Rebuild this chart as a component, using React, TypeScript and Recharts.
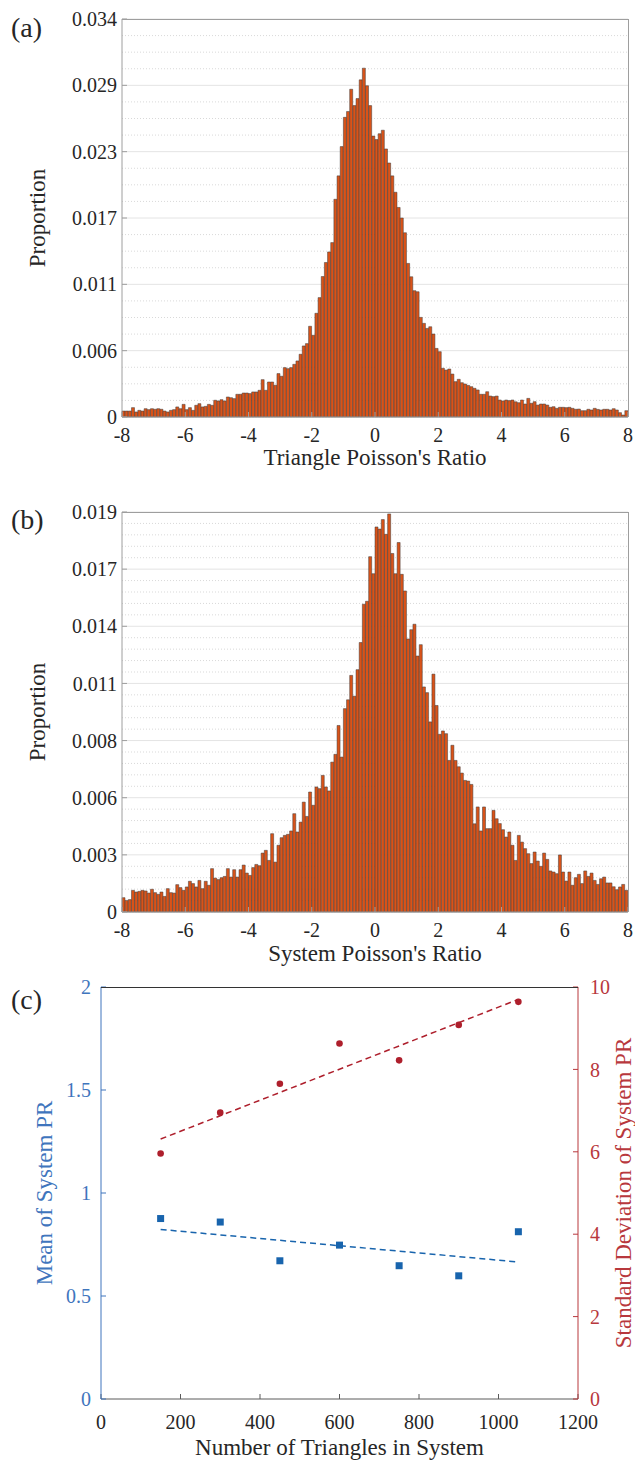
import React from 'react';
import { XAxis, YAxis, CartesianGrid, ComposedChart, Bar, Scatter, Line, Label } from 'recharts';

const FONT = "'Liberation Serif', 'DejaVu Serif', serif";
const TEXT = '#262626';

// histogram bins: 160 bins of width 0.1 from -8 to 8
const BIN_START = -8;
const BIN_WIDTH = 0.1;
const HIST_MIN = -8;
const HIST_MAX = 8;
const histXTicks = [-8, -6, -4, -2, 0, 2, 4, 6, 8];

// (a) triangle Poisson's ratio, proportion per bin
const triangleProportion = [
  0.00051, 0.00051, 0.00051, 0.0008, 0.00043, 0.00057, 0.00051, 0.00071, 0.00063, 0.00071,
  0.00066, 0.00071, 0.00066, 0.00051, 0.00043, 0.00057, 0.00063, 0.00086, 0.00071, 0.00108,
  0.00063, 0.0008, 0.00057, 0.001, 0.00114, 0.00086, 0.00091, 0.00108, 0.001, 0.00143,
  0.00137, 0.00148, 0.00137, 0.00171, 0.00165, 0.00157, 0.00194, 0.00194, 0.00205, 0.00205,
  0.002, 0.00214, 0.00214, 0.00228, 0.00319, 0.00228, 0.00299, 0.00299, 0.00271, 0.00371,
  0.00348, 0.00422, 0.00413, 0.00422, 0.0045, 0.00479, 0.00536, 0.00607, 0.00627, 0.00775,
  0.00698, 0.00886, 0.0102, 0.012, 0.0132, 0.0141, 0.0149, 0.0186, 0.0206, 0.0231,
  0.0256, 0.0261, 0.028, 0.0266, 0.0272, 0.0288, 0.0298, 0.0283, 0.0266, 0.024,
  0.0237, 0.0242, 0.0245, 0.0229, 0.0217, 0.0206, 0.0192, 0.0179, 0.017, 0.01574,
  0.01312, 0.01198, 0.01079, 0.0107, 0.00851, 0.008, 0.00757, 0.00771, 0.00709, 0.00586,
  0.00558, 0.00416, 0.00401, 0.0041, 0.00367, 0.00302, 0.00322, 0.00293, 0.00282, 0.0027,
  0.00259, 0.00245, 0.00231, 0.00194, 0.00194, 0.00216, 0.00179, 0.00174, 0.00179, 0.00145,
  0.00137, 0.00145, 0.0014, 0.00145, 0.0013, 0.00122, 0.00145, 0.00111, 0.00159, 0.00117,
  0.00131, 0.00102, 0.00111, 0.00111, 0.00102, 0.00083, 0.00088, 0.00074, 0.00083, 0.00083,
  0.0008, 0.00083, 0.00074, 0.00066, 0.00068, 0.00054, 0.00054, 0.00066, 0.0006, 0.00074,
  0.00065, 0.0006, 0.00066, 0.00066, 0.0006, 0.00071, 0.0006, 0.00037, 0.00017, 0.00054,
];
const triangleYMax = 0.034;
const triangleYLabels = ['0', '0.006', '0.011', '0.017', '0.023', '0.029', '0.034'];

// (b) system Poisson's ratio, proportion per bin
const systemProportion = [
  0.00068, 0.00055, 0.00059, 0.00103, 0.00095, 0.00098, 0.00103, 0.001, 0.0009, 0.00108,
  0.00092, 0.00084, 0.00095, 0.00074, 0.00111, 0.00092, 0.0009, 0.0013, 0.00116, 0.00103,
  0.00119, 0.00146, 0.00135, 0.00119, 0.0015, 0.00111, 0.00146, 0.00127, 0.00206, 0.00161,
  0.00154, 0.00163, 0.00169, 0.00206, 0.00166, 0.00201, 0.00166, 0.00201, 0.00223, 0.00185,
  0.00174, 0.00211, 0.00226, 0.0022, 0.0028, 0.00293, 0.00245, 0.00372, 0.00237, 0.00317,
  0.00353, 0.00364, 0.00369, 0.00385, 0.00467, 0.0038, 0.00427, 0.00522, 0.00454, 0.0057,
  0.00507, 0.00594, 0.00586, 0.00649, 0.00594, 0.00575, 0.00712, 0.00749, 0.00886, 0.00736,
  0.00966, 0.01008, 0.01124, 0.01025, 0.01151, 0.0128, 0.01462, 0.01476, 0.01688, 0.01607,
  0.01829, 0.01819, 0.01864, 0.01794, 0.01891, 0.01703, 0.01607, 0.01755, 0.01604, 0.01525,
  0.01297, 0.01341, 0.01367, 0.01216, 0.0127, 0.01069, 0.01042, 0.00903, 0.0113, 0.00981,
  0.00844, 0.0086, 0.00847, 0.0072, 0.00792, 0.0072, 0.0069, 0.0066, 0.00625, 0.00622,
  0.00606, 0.00419, 0.00499, 0.00385, 0.00499, 0.00396, 0.00396, 0.00483, 0.00443, 0.0042,
  0.00391, 0.00356, 0.0038, 0.00317, 0.00245, 0.00364, 0.00332, 0.00301, 0.00277, 0.0023,
  0.00285, 0.00242, 0.00217, 0.0028, 0.0025, 0.00195, 0.0019, 0.00182, 0.00271, 0.0019,
  0.00147, 0.0019, 0.00127, 0.00163, 0.00179, 0.00135, 0.00195, 0.00169, 0.00185, 0.0015,
  0.00131, 0.00158, 0.00166, 0.00138, 0.00138, 0.0012, 0.00106, 0.00119, 0.00131, 0.00103,
];
const systemYMax = 0.019;
const systemYLabels = ['0', '0.003', '0.006', '0.008', '0.011', '0.014', '0.017', '0.019'];

// (c) statistics against system size
const triangleCounts = [150, 300, 450, 600, 750, 900, 1050];
const meanPR = [0.876, 0.859, 0.671, 0.747, 0.647, 0.598, 0.812];
const stdPR = [5.96, 6.95, 7.65, 8.63, 8.22, 9.08, 9.64];
const fitCounts = [150, 1050];
const meanFit = [0.823, 0.665];
const stdFit = [6.31, 9.7];
const countTicks = [0, 200, 400, 600, 800, 1000, 1200];
const meanTicks = [0, 0.5, 1, 1.5, 2];
const stdTicks = [0, 2, 4, 6, 8, 10];

const BLUE_AXIS = '#3f75bd';
const BLUE = '#1864ad';
const RED_AXIS = '#b8383d';
const RED = '#ae1f2c';
const FRAME = '#9e9e9e';
const TICK_FS = 20;
const TITLE_FS = 23;

function Histogram({ values, yMax, yLabels, minorSteps, xLabel, height, top, axisHeight, labelOffset }: any) {
  const data = values.map((v: number, i: number) => ({ x: +(BIN_START + BIN_WIDTH * (i + 0.5)).toFixed(2), v }));
  const step = yMax / (yLabels.length - 1);
  const majors = yLabels.map((_: string, k: number) => k * step);
  const minors: number[] = [];
  for (let k = 0; k < yLabels.length - 1; k++) {
    for (let j = 1; j < minorSteps; j++) minors.push((k + j / minorSteps) * step);
  }
  const fmt = (v: number) => yLabels[Math.round(v / step)];
  const tickStyle = { fill: TEXT, fontSize: TICK_FS, fontFamily: FONT };
  return (
    <ComposedChart width={635} height={height} data={data} margin={{ top, right: 7, bottom: 0, left: 0 }} barCategoryGap={0} barGap={0}>
      <CartesianGrid xAxisId="num" yAxisId="l" vertical={false} horizontalValues={minors} stroke="#d9d9d9" strokeDasharray="1 2" />
      <CartesianGrid xAxisId="num" yAxisId="l" vertical={false} horizontalValues={majors} stroke="#e4e4e4" />
      <XAxis xAxisId="num" dataKey="x" type="number" domain={[HIST_MIN, HIST_MAX]} ticks={histXTicks} height={axisHeight}
        tickSize={-5} tickMargin={16} stroke={FRAME} tick={tickStyle} interval={0}>
        <Label value={xLabel} position="insideBottom" offset={labelOffset} style={{ fill: TEXT, fontSize: TITLE_FS, fontFamily: FONT }} />
      </XAxis>
      <YAxis yAxisId="l" domain={[0, yMax]} ticks={majors} tickFormatter={fmt} width={122}
        tickSize={-5} tickMargin={10} stroke={FRAME} tick={tickStyle} interval={0}>
        <Label value="Proportion" angle={-90} position="insideLeft" offset={37} style={{ textAnchor: 'middle', fill: TEXT, fontSize: TITLE_FS, fontFamily: FONT }} />
      </YAxis>
      <Bar xAxisId="num" yAxisId="l" dataKey="v" fill="#D95319" stroke="#3b3b3b" strokeWidth={0.5} isAnimationActive={false} />
    </ComposedChart>
  );
}

const square = (p: any) => <rect x={p.cx - 3.5} y={p.cy - 3.5} width={7} height={7} fill={BLUE} />;
const dot = (p: any) => <circle cx={p.cx} cy={p.cy} r={3.3} fill={RED} />;

function StatsChart() {
  const meanData = triangleCounts.map((n, i) => ({ n, mean: meanPR[i] }));
  const stdData = triangleCounts.map((n, i) => ({ n, std: stdPR[i] }));
  const meanFitData = fitCounts.map((n, i) => ({ n, fit: meanFit[i] }));
  const stdFitData = fitCounts.map((n, i) => ({ n, fit: stdFit[i] }));
  return (
    <ComposedChart width={635} height={520} margin={{ top: 47, right: 0, bottom: 0, left: 0 }}>
      <XAxis xAxisId="x" dataKey="n" type="number" domain={[0, 1200]} ticks={countTicks} height={61}
        tickSize={-5} tickMargin={21} stroke="#5a5a5a" tick={{ fill: TEXT, fontSize: TICK_FS, fontFamily: FONT }} interval={0}>
        <Label value="Number of Triangles in System" position="insideBottom" offset={5} style={{ fill: TEXT, fontSize: TITLE_FS, fontFamily: FONT }} />
      </XAxis>
      <YAxis yAxisId="mean" domain={[0, 2]} ticks={meanTicks} width={101} tickSize={-5} tickMargin={15}
        stroke={BLUE_AXIS} tick={{ fill: BLUE_AXIS, fontSize: TICK_FS, fontFamily: FONT }} interval={0}>
        <Label value="Mean of System PR" angle={-90} position="insideLeft" offset={44} style={{ textAnchor: 'middle', fill: BLUE_AXIS, fontSize: TITLE_FS, fontFamily: FONT }} />
      </YAxis>
      <YAxis yAxisId="std" orientation="right" domain={[0, 10]} ticks={stdTicks} width={57} tickSize={-5} tickMargin={17}
        stroke={RED_AXIS} tick={{ fill: RED_AXIS, fontSize: TICK_FS, fontFamily: FONT }} interval={0}>
        <Label value="Standard Deviation of System PR" angle={-90} position="insideRight" offset={12} style={{ textAnchor: 'middle', fill: RED_AXIS, fontSize: TITLE_FS, fontFamily: FONT }} />
      </YAxis>
      <Line data={meanFitData} xAxisId="x" yAxisId="mean" dataKey="fit" stroke={BLUE} strokeWidth={1.5} strokeDasharray="6 4" dot={false} isAnimationActive={false} />
      <Line data={stdFitData} xAxisId="x" yAxisId="std" dataKey="fit" stroke={RED} strokeWidth={1.5} strokeDasharray="6 4" dot={false} isAnimationActive={false} />
      <Scatter data={meanData} xAxisId="x" yAxisId="mean" dataKey="mean" fill={BLUE} shape={square} isAnimationActive={false} />
      <Scatter data={stdData} xAxisId="x" yAxisId="std" dataKey="std" fill={RED} shape={dot} isAnimationActive={false} />
    </ComposedChart>
  );
}

const tag = (text: string, top: number) => (
  <div style={{ position: 'absolute', left: 11, top, fontFamily: FONT, fontSize: 28, lineHeight: '30px', color: TEXT }}>{text}</div>
);

// top / right edges of each axes box, drawn as a plain bordered overlay
const boxEdge = (left: number, top: number, width: number, height: number, color: string, right: boolean) => (
  <div style={{
    position: 'absolute', left, top, width, height, boxSizing: 'border-box', pointerEvents: 'none',
    borderTop: `1px solid ${color}`, borderRight: right ? `1px solid ${color}` : 'none',
  }} />
);

export default function App() {
  return (
    <div style={{ position: 'absolute', left: 0, top: 0, width: 635, height: 1460, background: '#fff', overflow: 'hidden' }}>
      <div style={{ position: 'absolute', left: 0, top: 0 }}>
        <Histogram values={triangleProportion} yMax={triangleYMax} yLabels={triangleYLabels} minorSteps={4}
          xLabel="Triangle Poisson's Ratio" height={480} top={19} axisHeight={63} labelOffset={15} />
      </div>
      <div style={{ position: 'absolute', left: 0, top: 480 }}>
        <Histogram values={systemProportion} yMax={systemYMax} yLabels={systemYLabels} minorSteps={5}
          xLabel="System Poisson's Ratio" height={500} top={32} axisHeight={68} labelOffset={19} />
      </div>
      <div style={{ position: 'absolute', left: 0, top: 940 }}>
        <StatsChart />
      </div>
      {boxEdge(122, 19, 507, 398, FRAME, true)}
      {boxEdge(122, 512, 507, 400, FRAME, true)}
      {boxEdge(101, 987, 477, 412, '#333333', false)}
      {tag('(a)', 13)}
      {tag('(b)', 505)}
      {tag('(c)', 985)}
    </div>
  );
}
